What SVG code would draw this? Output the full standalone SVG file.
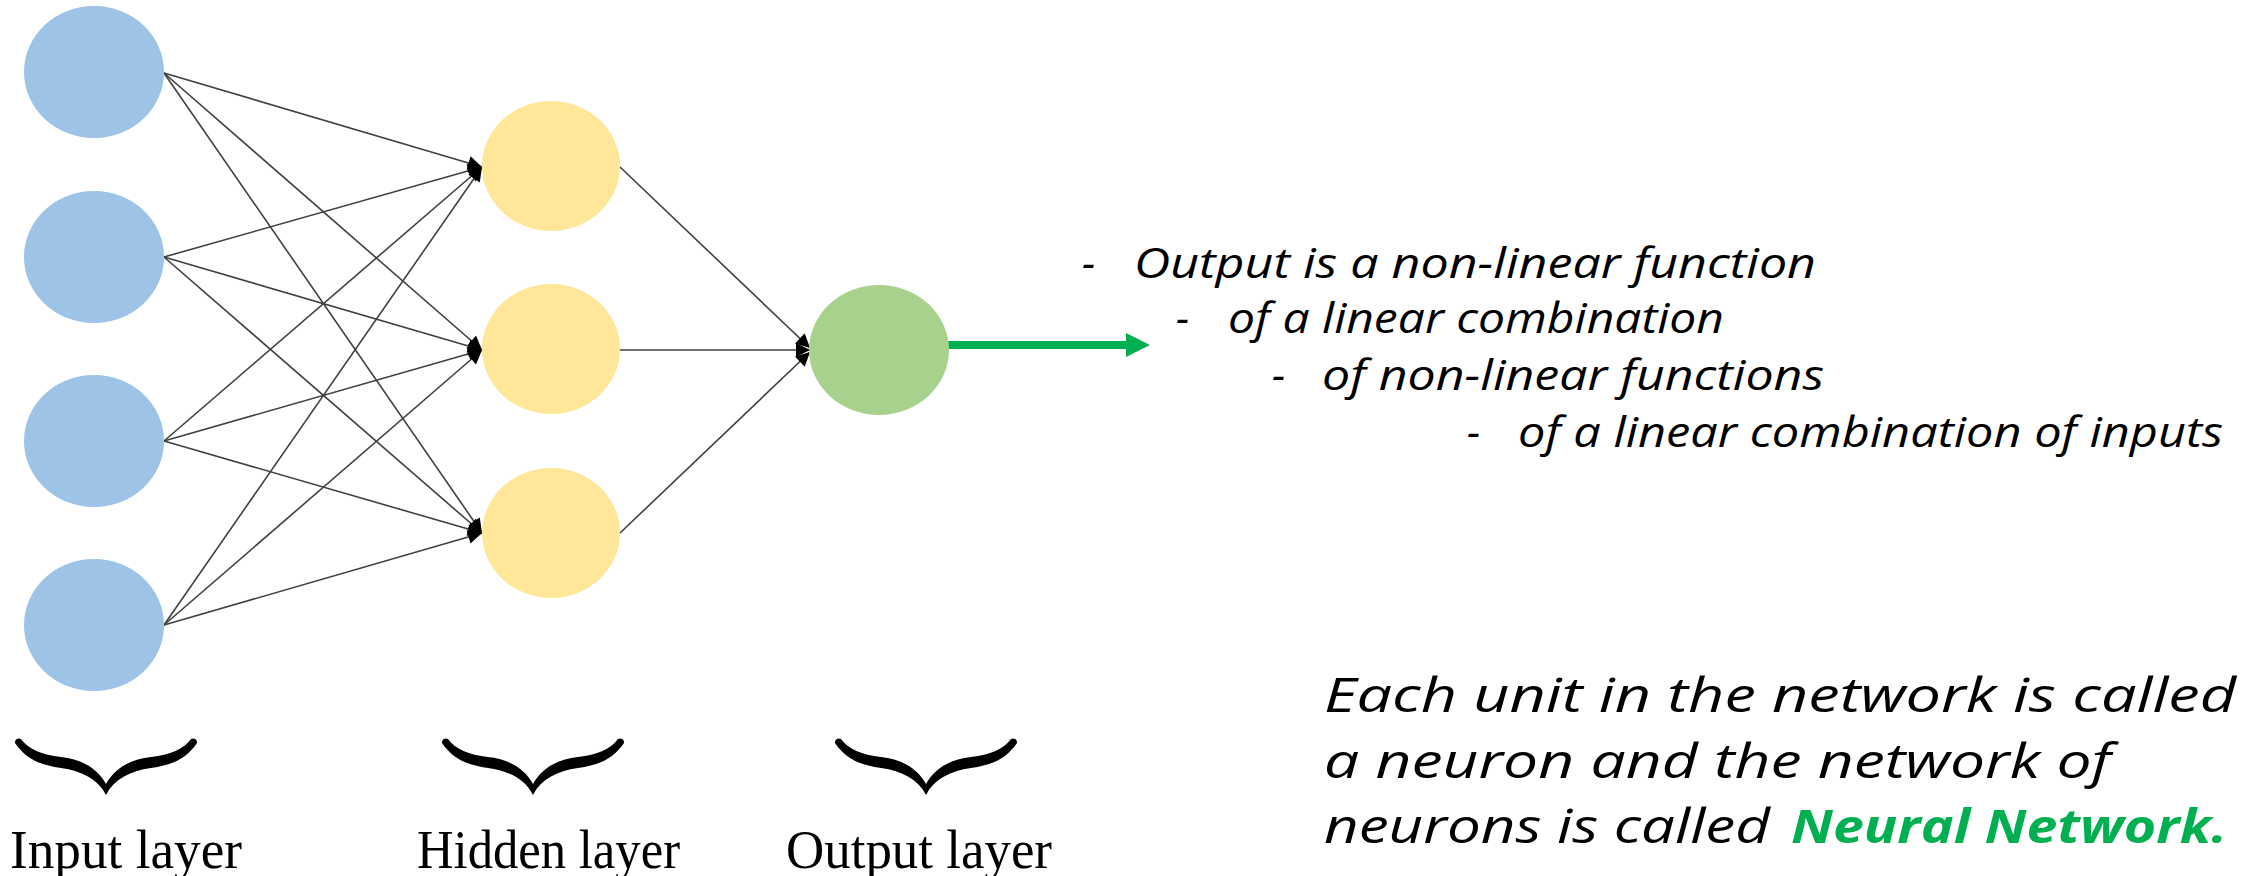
<svg xmlns="http://www.w3.org/2000/svg" width="2256" height="876" viewBox="0 0 2256 876">
<style>
.in{fill:#9DC3E6}
.hid{fill:#FFE699}
.out{fill:#A9D18E}
.edge{stroke:#404040;stroke-width:1.6;fill:none;marker-end:url(#ah)}
.brace{fill:#000}
.lbl{font-family:"Liberation Serif",serif;font-size:54px;fill:#000}
.note{font-family:"Open Sans","Liberation Sans",sans-serif;font-style:italic;font-size:42px;fill:#000}
.big{font-family:"Open Sans","Liberation Sans",sans-serif;font-style:italic;font-size:47px;fill:#000}
.green{fill:#00B050;font-weight:bold}
</style>
<defs>
<marker id="ah" viewBox="0 0 10 10" refX="10" refY="5" markerWidth="18" markerHeight="14" markerUnits="userSpaceOnUse" orient="auto">
<path d="M0,0 L10,5 L0,10 z" fill="#000"/>
</marker>
<path id="br" d="M-91,0 C-80,16 -66,22 -45,25 C-24,28 -8,36 0,52 C8,36 24,28 45,25 C66,22 80,16 91,0 A4,4 0 0 0 85,-4 C78,6 64,12 45,14 C24,16 8,26 0,41 C-8,26 -24,16 -45,14 C-64,12 -78,6 -85,-4 A4,4 0 0 0 -91,0 Z"/>
</defs>
<rect width="2256" height="876" fill="#fff"/>
<g id="connectors">
<line class="edge" x1="164" y1="73" x2="482" y2="167"/>
<line class="edge" x1="164" y1="73" x2="482" y2="350"/>
<line class="edge" x1="164" y1="73" x2="482" y2="533"/>
<line class="edge" x1="164" y1="257" x2="482" y2="167"/>
<line class="edge" x1="164" y1="257" x2="482" y2="350"/>
<line class="edge" x1="164" y1="257" x2="482" y2="533"/>
<line class="edge" x1="164" y1="441" x2="482" y2="167"/>
<line class="edge" x1="164" y1="441" x2="482" y2="350"/>
<line class="edge" x1="164" y1="441" x2="482" y2="533"/>
<line class="edge" x1="164" y1="625" x2="482" y2="167"/>
<line class="edge" x1="164" y1="625" x2="482" y2="350"/>
<line class="edge" x1="164" y1="625" x2="482" y2="533"/>
<line class="edge" x1="620" y1="167" x2="810" y2="348"/>
<line class="edge" x1="620" y1="350" x2="810" y2="350"/>
<line class="edge" x1="620" y1="533" x2="810" y2="352"/>
<line x1="948" y1="345" x2="1128" y2="345" stroke="#00B050" stroke-width="8"/>
<polygon points="1126,333 1150,345 1126,357" fill="#00B050"/>
</g>
<g id="input1"><ellipse class="in" cx="94" cy="72" rx="70" ry="66"/></g>
<g id="input2"><ellipse class="in" cx="94" cy="257" rx="70" ry="66"/></g>
<g id="input3"><ellipse class="in" cx="94" cy="441" rx="70" ry="66"/></g>
<g id="input4"><ellipse class="in" cx="94" cy="625" rx="70" ry="66"/></g>
<g id="hidden1"><ellipse class="hid" cx="551" cy="166" rx="69" ry="65"/></g>
<g id="hidden2"><ellipse class="hid" cx="551" cy="349" rx="69" ry="65"/></g>
<g id="hidden3"><ellipse class="hid" cx="551" cy="533" rx="69" ry="65"/></g>
<g id="output"><ellipse class="out" cx="879" cy="350" rx="70" ry="65"/></g>
<g id="braces">
<use href="#br" class="brace" transform="translate(106,743)"/>
<use href="#br" class="brace" transform="translate(533,743)"/>
<use href="#br" class="brace" transform="translate(926,743)"/>
</g>
<g id="labels">
<text class="lbl" x="10" y="868" textLength="232" lengthAdjust="spacingAndGlyphs">Input layer</text>
<text class="lbl" x="417" y="868" textLength="263" lengthAdjust="spacingAndGlyphs">Hidden layer</text>
<text class="lbl" x="786" y="868" textLength="266" lengthAdjust="spacingAndGlyphs">Output layer</text>
</g>
<g id="notes">
<text class="note" y="278"><tspan x="1082">-</tspan><tspan x="1134" textLength="682" lengthAdjust="spacingAndGlyphs">Output is a non-linear function</tspan></text>
<text class="note" y="333"><tspan x="1176">-</tspan><tspan x="1228" textLength="496" lengthAdjust="spacingAndGlyphs">of a linear combination</tspan></text>
<text class="note" y="390"><tspan x="1272">-</tspan><tspan x="1322" textLength="502" lengthAdjust="spacingAndGlyphs">of non-linear functions</tspan></text>
<text class="note" y="447"><tspan x="1467">-</tspan><tspan x="1518" textLength="705" lengthAdjust="spacingAndGlyphs">of a linear combination of inputs</tspan></text>
</g>
<g id="summary">
<text class="big" x="1324" y="712" textLength="912" lengthAdjust="spacingAndGlyphs">Each unit in the network is called</text>
<text class="big" x="1324" y="778" textLength="787" lengthAdjust="spacingAndGlyphs">a neuron and the network of</text>
<text class="big" x="1324" y="843"><tspan textLength="446" lengthAdjust="spacingAndGlyphs">neurons is called</tspan><tspan class="green" x="1791" textLength="436" lengthAdjust="spacingAndGlyphs">Neural Network.</tspan></text>
</g>
</svg>
